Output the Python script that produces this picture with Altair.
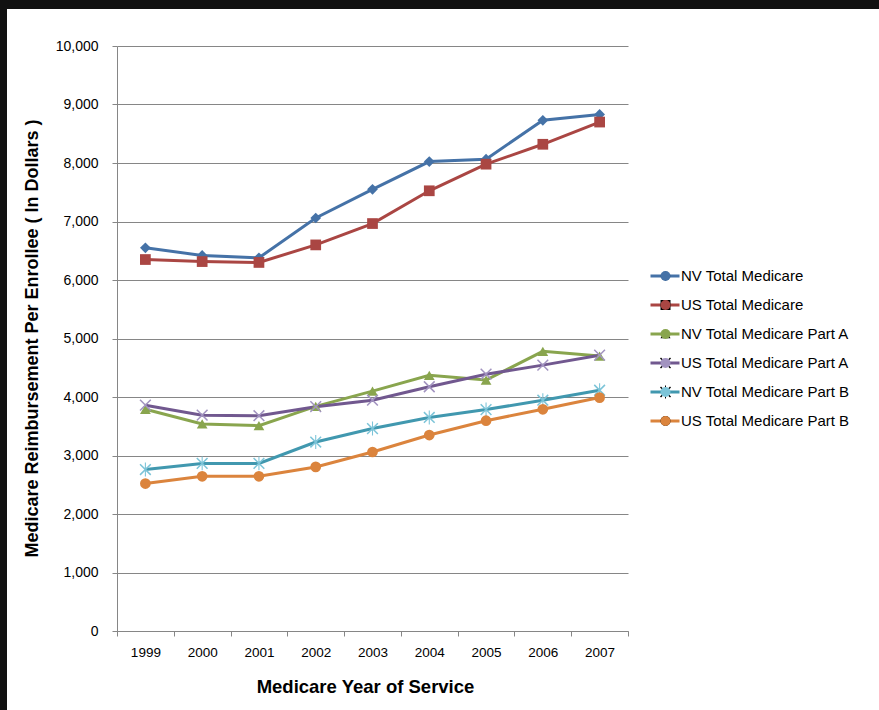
import altair as alt
import pandas as pd

years = ["1999", "2000", "2001", "2002", "2003", "2004", "2005", "2006", "2007"]
series_names = [
    "NV Total Medicare",
    "US Total Medicare",
    "NV Total Medicare Part A",
    "US Total Medicare Part A",
    "NV Total Medicare Part B",
    "US Total Medicare Part B",
]
nv_total = [6550, 6420, 6380, 7060, 7550, 8025, 8065, 8730, 8830]
us_total = [6350, 6315, 6300, 6600, 6965, 7525, 7980, 8320, 8700]
nv_part_a = [3790, 3540, 3510, 3840, 4100, 4370, 4290, 4780, 4700]
us_part_a = [3860, 3690, 3680, 3835, 3945, 4175, 4390, 4545, 4715]
nv_part_b = [2760, 2865, 2865, 3230, 3460, 3650, 3785, 3945, 4115]
us_part_b = [2520, 2645, 2645, 2805, 3060, 3350, 3595, 3790, 3990]

line_colors = ["#4572A7", "#AA4643", "#89A54E", "#71588F", "#4198AF", "#DB843D"]
marker_colors = ["#4572A7", "#AA4643", "#89A54E", "#A293C0", "#7CC4D8", "#DB843D"]
X_PATH = ("M-0.9,-1.1L1.1,0.9L0.9,1.1L-1.1,-0.9Z"
          "M-1.1,0.9L0.9,-1.1L1.1,-0.9L-0.9,1.1Z")
STAR_PATH = X_PATH + "M-0.1,-1.3L0.1,-1.3L0.1,1.3L-0.1,1.3Z"
shapes = ["diamond", "square", "triangle-up", X_PATH, STAR_PATH, "circle"]

all_values = [nv_total, us_total, nv_part_a, us_part_a, nv_part_b, us_part_b]
rows = []
for name, vals in zip(series_names, all_values):
    for y, v in zip(years, vals):
        rows.append({"year": y, "value": v, "series": name, "marker": name})
df = pd.DataFrame(rows)

FONT = "Liberation Sans"

x_enc = alt.X(
    "year:N",
    sort=years,
    scale=alt.Scale(paddingInner=0, paddingOuter=0),
    axis=alt.Axis(
        title="Medicare Year of Service",
        labelAngle=0,
        tickBand="extent",
        grid=False,
        domainColor="#868686",
        tickColor="#868686",
        tickSize=5,
        labelPadding=9,
        labelFont=FONT,
        labelFontSize=13.5,
        labelColor="#000000",
        titleFont=FONT,
        titleFontSize=18.5,
        titleFontWeight="bold",
        titleColor="#000000",
        titleX=248,
        titleY=55,
        titleBaseline="middle",
        titleAlign="center",
    ),
)
y_enc = alt.Y(
    "value:Q",
    scale=alt.Scale(domain=[0, 10000], nice=False),
    axis=alt.Axis(
        title="Medicare Reimbursement Per Enrollee ( In Dollars )",
        values=list(range(0, 10001, 1000)),
        format=",.0f",
        grid=True,
        gridColor="#868686",
        domainColor="#868686",
        tickColor="#868686",
        tickSize=5,
        labelPadding=14,
        labelFont=FONT,
        labelFontSize=14,
        labelColor="#000000",
        titleFont=FONT,
        titleFontSize=18,
        titleFontWeight="bold",
        titleColor="#000000",
        titleAngle=-90,
        titleX=-85,
        titleY=292,
        titleBaseline="middle",
        titleAlign="center",
    ),
)

legend_common = dict(
    orient="none",
    title=None,
    padding=0,
    clipHeight=20,
    rowPadding=9,
    labelFont=FONT,
    labelFontSize=15,
    labelLimit=300,
    labelColor="#000000",
)

line_legend = alt.Legend(
    legendX=532,
    legendY=220,
    symbolType="stroke",
    symbolSize=841,
    symbolStrokeWidth=3,
    labelOffset=0,
    **legend_common,
)
point_legend = alt.Legend(
    legendX=541,
    legendY=220,
    symbolSize=100,
    symbolStrokeWidth=0,
    labelExpr="''",
    **legend_common,
)

frame_top = alt.Chart(pd.DataFrame({"a": [0]})).mark_rect(color="#111111").encode(
    x=alt.value(-117), x2=alt.value(762), y=alt.value(-46), y2=alt.value(-37)
)
frame_left = alt.Chart(pd.DataFrame({"a": [0]})).mark_rect(color="#111111").encode(
    x=alt.value(-117), x2=alt.value(-110), y=alt.value(-46), y2=alt.value(664)
)

lines = alt.Chart(df).mark_line(strokeWidth=3).encode(
    x=x_enc,
    y=y_enc,
    stroke=alt.Stroke(
        "series:N",
        sort=series_names,
        scale=alt.Scale(range=line_colors),
        legend=line_legend,
    ),
)

points = alt.Chart(df).mark_point(filled=True, size=115, strokeWidth=0, opacity=1).encode(
    x=alt.X("year:N", sort=years),
    y=alt.Y("value:Q"),
    fill=alt.Fill(
        "marker:N",
        sort=series_names,
        scale=alt.Scale(range=marker_colors),
        legend=point_legend,
    ),
    shape=alt.Shape(
        "marker:N",
        sort=series_names,
        scale=alt.Scale(range=shapes),
        legend=point_legend,
    ),
)

chart = (
    alt.layer(frame_top, frame_left, lines, points)
    .properties(
        width=511,
        height=585,
        autosize=alt.AutoSizeParams(type="none"),
        padding={"left": 117, "top": 46, "right": 251, "bottom": 79},
        background="#ffffff",
    )
    .configure_view(stroke=None)
)

chart.save("out.html", embed_options={"renderer": "svg", "actions": False})
